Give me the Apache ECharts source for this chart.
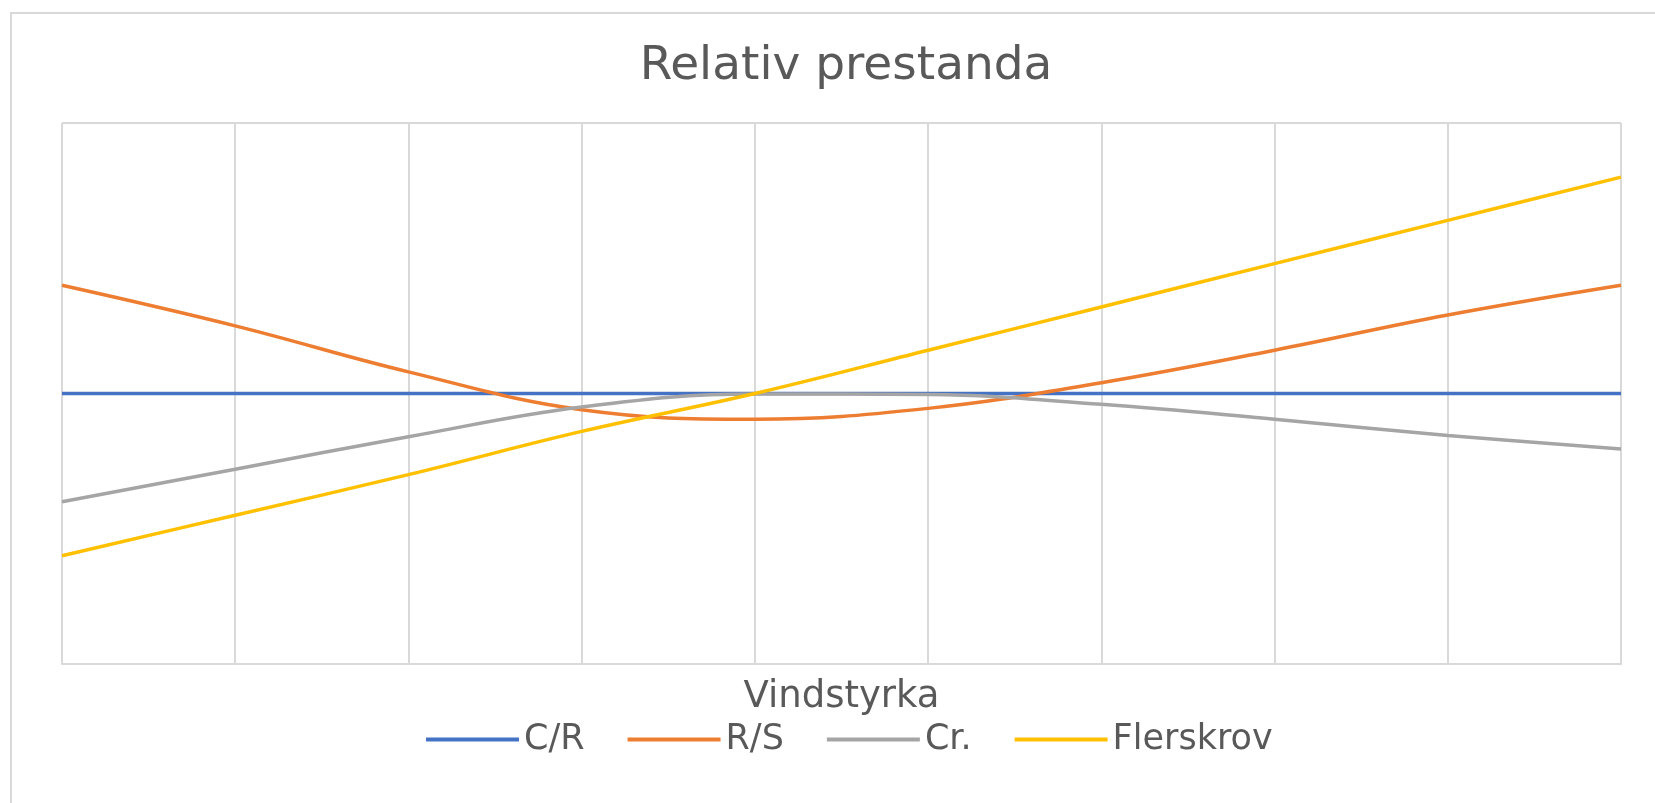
<!DOCTYPE html>
<html>
<head>
<meta charset="utf-8">
<title>Relativ prestanda</title>
<script src="https://cdn.jsdelivr.net/npm/echarts@6/dist/echarts.min.js"></script>
<style>
  html, body {
    margin: 0;
    padding: 0;
    background: #fff;
  }
  #frame {
    position: absolute;
    left: 10px;
    top: 12px;
    width: 1700px;
    height: 900px;
    border-left: 2px solid #d9d9d9;
    border-top: 2px solid #d9d9d9;
  }
  #chart {
    position: absolute;
    left: 0;
    top: 0;
    width: 1655px;
    height: 803px;
  }
</style>
</head>
<body>
<div id="frame"></div>
<div id="chart"></div>
<script type="text/javascript">
  // vindstyrka steps (labels not shown in the chart)
  var categories = ['1', '2', '3', '4', '5', '6', '7', '8', '9', '10']

  // relativ prestanda, C/R used as reference = 1
  var cr = [1, 1, 1, 1, 1, 1, 1, 1, 1, 1]
  var rs = [1.40, 1.25, 1.08, 0.94, 0.905, 0.945, 1.04, 1.16, 1.29, 1.40]
  var cruiser = [0.60, 0.72, 0.84, 0.95, 0.998, 0.996, 0.96, 0.905, 0.845, 0.795]
  var flerskrov = [0.40, 0.55, 0.70, 0.86, 1.0, 1.16, 1.32, 1.48, 1.64, 1.80]

  var textColor = '#595959'
  var gridColor = '#d9d9d9'
  var font = 'DejaVu Sans'

  function lineSeries(name, data, color) {
    return {
      name: name,
      type: 'line',
      data: data,
      symbol: 'none',
      smooth: 0.4,
      lineStyle: {width: 3.5, color: color},
      itemStyle: {color: color}
    }
  }

  var chart = echarts.init(document.getElementById('chart'))
  chart.setOption({
    animation: false,
    title: {
      text: 'Relativ prestanda',
      left: 841,
      textAlign: 'center',
      top: 38,
      textStyle: {
        color: textColor,
        fontFamily: font,
        fontSize: 47,
        fontWeight: 'normal'
      }
    },
    legend: {
      left: 421,
      top: 717,
      icon: 'rect',
      itemWidth: 93,
      itemHeight: 4,
      itemGap: 43,
      textStyle: {color: textColor, fontFamily: font, fontSize: 35},
      data: ['C/R', 'R/S', 'Cr.', 'Flerskrov']
    },
    grid: {
      left: 62,
      right: 34,
      top: 123,
      bottom: 139
    },
    xAxis: {
      type: 'category',
      data: categories,
      boundaryGap: false,
      name: 'Vindstyrka',
      nameLocation: 'middle',
      nameGap: 15,
      nameTextStyle: {color: textColor, fontFamily: font, fontSize: 37, verticalAlign: 'top'},
      axisLine: {lineStyle: {color: gridColor, width: 2}},
      axisTick: {show: false},
      axisLabel: {show: false},
      splitLine: {show: true, interval: 0, lineStyle: {color: gridColor, width: 2}}
    },
    yAxis: {
      type: 'value',
      min: 0,
      max: 2,
      interval: 2,
      axisLine: {show: false},
      axisTick: {show: false},
      axisLabel: {show: false},
      splitLine: {show: true, lineStyle: {color: gridColor, width: 2}}
    },
    series: [
      lineSeries('C/R', cr, '#4472c4'),
      lineSeries('R/S', rs, '#ed7d31'),
      lineSeries('Cr.', cruiser, '#a5a5a5'),
      lineSeries('Flerskrov', flerskrov, '#ffc000')
    ]
  })
</script>
</body>
</html>
